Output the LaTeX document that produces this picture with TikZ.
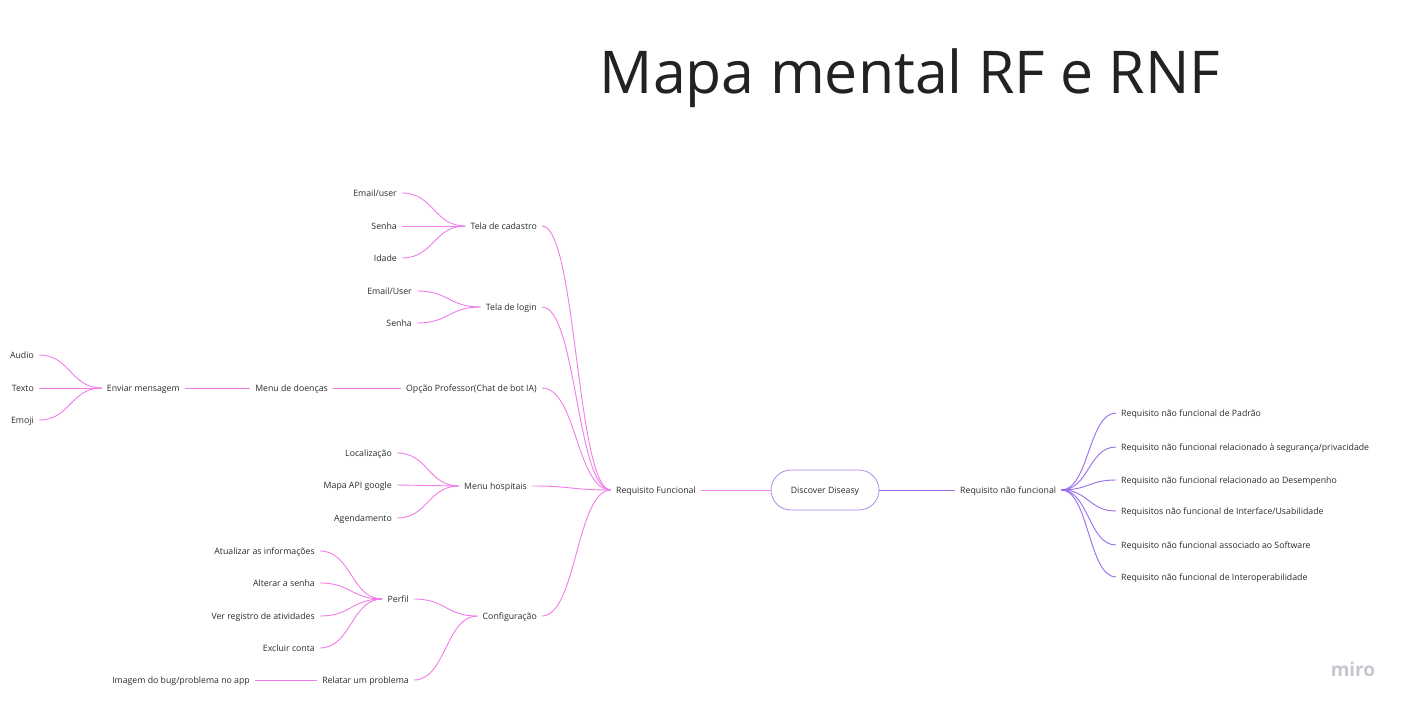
\documentclass[tikz,border=0pt]{standalone}
\usepackage{fontspec}
\setmainfont{Open Sans}
\usetikzlibrary{calc}

\definecolor{rfpink}{HTML}{F07DEB}
\definecolor{rnfviolet}{HTML}{9C6BEA}
\definecolor{rootline}{HTML}{B08AE6}
\definecolor{txtgray}{HTML}{2B2B2B}
\definecolor{titlegray}{HTML}{222222}
\definecolor{logogray}{HTML}{C6C6CE}

\tikzset{
  item/.style={font=\fontsize{8.75}{10}\selectfont, text=txtgray, inner xsep=5pt, inner ysep=2pt, text height=1.6ex, text depth=.3ex},
  leftitem/.style={item, anchor=east},
  rightitem/.style={item, anchor=west},
  rootbox/.style={item, draw=rootline, line width=0.8pt, rounded corners=20pt, minimum width=108pt, minimum height=40pt},
  pinkline/.style={draw=rfpink, line width=0.9pt},
  violetline/.style={draw=rnfviolet, line width=0.9pt},
  branch/.style={to path={let \p1=(\tikztostart), \p2=(\tikztotarget) in
    (\p1) .. controls ({(\x1+\x2)/2},\y1) and ({(\x1+\x2)/2},\y2) .. (\p2)}}
}

\begin{document}
\begin{tikzpicture}[x=1pt, y=-1pt]
    \fill[white] (0,0) rectangle (1409,709);
    \useasboundingbox (0,0) rectangle (1409,709);

    % Title
    \node[font=\fontsize{59}{62}\selectfont, text=titlegray, anchor=base] (titulo) at (910,94) {Mapa mental RF e RNF};

    % Root
    \node[rootbox] (dd) at (825,490) {Discover Diseasy};

    % Requisito Funcional side
    \node[leftitem] (rf) at (701,490) {Requisito Funcional};

    \node[leftitem] (cad) at (542,226) {Tela de cadastro};
    \node[leftitem] (cadmail) at (402,193) {Email/user};
    \node[leftitem] (cadsenha) at (402,226) {Senha};
    \node[leftitem] (idade) at (402,258) {Idade};

    \node[leftitem] (login) at (542,307) {Tela de login};
    \node[leftitem] (logmail) at (417,291) {Email/User};
    \node[leftitem] (logsenha) at (417,323) {Senha};

    \node[leftitem] (prof) at (542,388) {Opção Professor(Chat de bot IA)};
    \node[leftitem] (doencas) at (333,388) {Menu de doenças};
    \node[leftitem] (enviar) at (185,388) {Enviar mensagem};
    \node[leftitem] (audio) at (39,355) {Audio};
    \node[leftitem] (texto) at (39,388) {Texto};
    \node[leftitem] (emoji) at (39,420) {Emoji};

    \node[leftitem] (hosp) at (532,486) {Menu hospitais};
    \node[leftitem] (local) at (397,453) {Localização};
    \node[leftitem] (mapa) at (397,485) {Mapa API google};
    \node[leftitem] (agenda) at (397,518) {Agendamento};

    \node[leftitem] (config) at (542,616) {Configuração};
    \node[leftitem] (perfil) at (414,599) {Perfil};
    \node[leftitem] (atual) at (320,551) {Atualizar as informações};
    \node[leftitem] (alterar) at (320,583) {Alterar a senha};
    \node[leftitem] (registro) at (320,616) {Ver registro de atividades};
    \node[leftitem] (excluir) at (320,648) {Excluir conta};
    \node[leftitem] (relatar) at (414,680) {Relatar um problema};
    \node[leftitem] (imagem) at (255,680) {Imagem do bug/problema no app};

    % Requisito nao funcional side
    \node[rightitem] (rnf) at (955,490) {Requisito não funcional};
    \node[rightitem] (padrao) at (1116,413) {Requisito não funcional de Padrão};
    \node[rightitem] (seguranca) at (1116,447) {Requisito não funcional relacionado à segurança/privacidade};
    \node[rightitem] (desempenho) at (1116,480) {Requisito não funcional relacionado ao Desempenho};
    \node[rightitem] (interface) at (1116,511) {Requisitos não funcional de Interface/Usabilidade};
    \node[rightitem] (software) at (1116,545) {Requisito não funcional associado ao Software};
    \node[rightitem] (interop) at (1116,577) {Requisito não funcional de Interoperabilidade};

    % Root connectors
    \draw[pinkline] (rf.east) -- (dd.west);
    \draw[violetline] (dd.east) -- (rnf.west);

    % Branches into Requisito Funcional
    \draw[pinkline] (cad.east) to[branch] (rf.west);
    \draw[pinkline] (login.east) to[branch] (rf.west);
    \draw[pinkline] (prof.east) to[branch] (rf.west);
    \draw[pinkline] (hosp.east) to[branch] (rf.west);
    \draw[pinkline] (config.east) to[branch] (rf.west);

    % Tela de cadastro
    \draw[pinkline] (cadmail.east) to[branch] (cad.west);
    \draw[pinkline] (cadsenha.east) to[branch] (cad.west);
    \draw[pinkline] (idade.east) to[branch] (cad.west);

    % Tela de login
    \draw[pinkline] (logmail.east) to[branch] (login.west);
    \draw[pinkline] (logsenha.east) to[branch] (login.west);

    % Chat chain
    \draw[pinkline] (doencas.east) -- (prof.west);
    \draw[pinkline] (enviar.east) -- (doencas.west);
    \draw[pinkline] (audio.east) to[branch] (enviar.west);
    \draw[pinkline] (texto.east) to[branch] (enviar.west);
    \draw[pinkline] (emoji.east) to[branch] (enviar.west);

    % Menu hospitais
    \draw[pinkline] (local.east) to[branch] (hosp.west);
    \draw[pinkline] (mapa.east) to[branch] (hosp.west);
    \draw[pinkline] (agenda.east) to[branch] (hosp.west);

    % Configuracao
    \draw[pinkline] (perfil.east) to[branch] (config.west);
    \draw[pinkline] (relatar.east) to[branch] (config.west);
    \draw[pinkline] (atual.east) to[branch] (perfil.west);
    \draw[pinkline] (alterar.east) to[branch] (perfil.west);
    \draw[pinkline] (registro.east) to[branch] (perfil.west);
    \draw[pinkline] (excluir.east) to[branch] (perfil.west);
    \draw[pinkline] (imagem.east) -- (relatar.west);

    % Requisito nao funcional branches
    \draw[violetline] (rnf.east) to[branch] (padrao.west);
    \draw[violetline] (rnf.east) to[branch] (seguranca.west);
    \draw[violetline] (rnf.east) to[branch] (desempenho.west);
    \draw[violetline] (rnf.east) to[branch] (interface.west);
    \draw[violetline] (rnf.east) to[branch] (software.west);
    \draw[violetline] (rnf.east) to[branch] (interop.west);

    % Logo
    \node[font=\fontsize{19}{20}\selectfont\bfseries, text=logogray, anchor=base] (logo) at (1353,676) {miro};
\end{tikzpicture}
\end{document}
